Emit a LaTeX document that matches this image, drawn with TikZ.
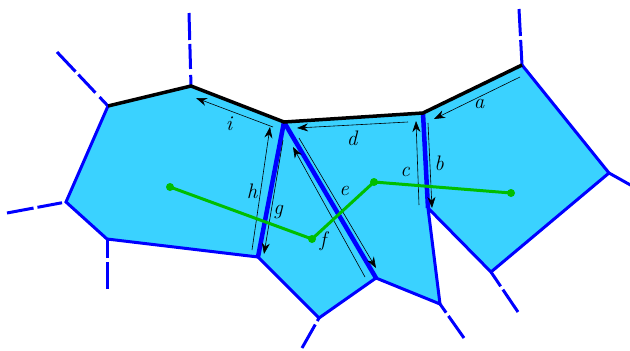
\documentclass[tikz,border=0pt]{standalone}
\usepackage{fontspec}
\usetikzlibrary{arrows.meta}
\definecolor{facefill}{RGB}{58,210,255}
\definecolor{edgeblue}{RGB}{0,0,255}
\definecolor{pathgreen}{RGB}{0,190,0}
\tikzset{
  face/.style={fill=facefill, draw=none},
  outeredge/.style={draw=edgeblue, line width=3pt, line join=miter},
  inneredge/.style={draw=edgeblue, line width=4.5pt},
  boundedge/.style={draw=black, line width=3.5pt, line join=miter},
  stub/.style={draw=edgeblue, line width=3pt, dash pattern=on 27pt off 4pt on 25pt off 6pt on 60pt},
  halfedge/.style={draw=black, line width=0.6pt, -{Stealth[length=11pt,width=8pt,inset=3.5pt]}},
  lab/.style={inner sep=0pt, font=\fontsize{21}{24}\selectfont\itshape},
  gpath/.style={draw=pathgreen, line width=3pt},
  gdot/.style={circle, fill=pathgreen, inner sep=0pt, minimum size=8pt}
}
\begin{document}
\begin{tikzpicture}[x=1pt, y=-1pt]
\useasboundingbox (0,0) rectangle (630,351);
\clip (0,0) rectangle (630,351);
% vertices
\coordinate (A) at (108,106);
\coordinate (B) at (191,86);
\coordinate (C) at (284,122);
\coordinate (D) at (423,113);
\coordinate (E) at (522,65);
\coordinate (F) at (609,173);
\coordinate (G) at (491,272);
\coordinate (H) at (428,208);
\coordinate (I) at (440,304);
\coordinate (J) at (376,278);
\coordinate (K) at (319,318);
\coordinate (L) at (258,257);
\coordinate (M) at (107,239);
\coordinate (N) at (66,202);
% stub outer ends
\coordinate (Ao) at (57,52);
\coordinate (Bo) at (189,13);
\coordinate (Eo) at (519,9);
\coordinate (Fo) at (634,187);
\coordinate (Go) at (518,312);
\coordinate (Io) at (464,338);
\coordinate (Ko) at (302,348);
\coordinate (Mo) at (107,289);
\coordinate (No) at (7,213);
% faces
\path[face] (A) -- (B) -- (C) -- (L) -- (M) -- (N) -- cycle;
\path[face] (C) -- (J) -- (K) -- (L) -- cycle;
\path[face] (C) -- (D) -- (H) -- (I) -- (J) -- cycle;
\path[face] (D) -- (E) -- (F) -- (G) -- (H) -- cycle;
% stubs
\draw[stub] (Ao) -- (A);
\draw[stub] (Bo) -- (B);
\draw[stub] (Eo) -- (E);
\draw[draw=edgeblue, line width=3pt] (F) -- (Fo);
\draw[stub] (Go) -- (G);
\draw[stub] (Io) -- (I);
\draw[stub] (Ko) -- (K);
\draw[stub] (Mo) -- (M);
\draw[stub] (No) -- (N);
% outer blue edges
\draw[outeredge] (C) -- (L) -- (M) -- (N) -- (A);
\draw[outeredge] (L) -- (K) -- (J) -- (I) -- (H) -- (G) -- (F) -- (E);
% inner edges
\draw[inneredge] (C) -- (L);
\draw[inneredge] (C) -- (J);
\draw[inneredge] (D) -- (H);
% boundary edges
\draw[boundedge] (A) -- (B) -- (C) -- (D) -- (E);
% half-edge arrows
\coordinate (a1) at (520,77);  \coordinate (a2) at (434,119);
\coordinate (b1) at (428,123); \coordinate (b2) at (432,208);
\coordinate (c1) at (419,205); \coordinate (c2) at (416,121);
\coordinate (d1) at (408,122); \coordinate (d2) at (297,128);
\coordinate (e1) at (299,138); \coordinate (e2) at (376,268);
\coordinate (f1) at (365,277); \coordinate (f2) at (293,147);
\coordinate (g1) at (283,140); \coordinate (g2) at (264,254);
\coordinate (h1) at (252,250); \coordinate (h2) at (270,127);
\coordinate (i1) at (273,127); \coordinate (i2) at (196,98);
\draw[halfedge] (a1) -- (a2);
\draw[halfedge] (b1) -- (b2);
\draw[halfedge] (c1) -- (c2);
\draw[halfedge] (d1) -- (d2);
\draw[halfedge] (e1) -- (e2);
\draw[halfedge] (f1) -- (f2);
\draw[halfedge] (g1) -- (g2);
\draw[halfedge] (h1) -- (h2);
\draw[halfedge] (i1) -- (i2);
% labels
\node[lab] (la) at (479,104) {a};
\node[lab] (lb) at (439,163) {b};
\node[lab] (lc) at (405,172) {c};
\node[lab] (ld) at (352,138) {d};
\node[lab] (le) at (344,191) {e};
\node[lab] (lf) at (323,241) {f};
\node[lab] (lg) at (278,212) {g};
\node[lab] (lh) at (252,191) {h};
\node[lab] (li) at (229,124) {i};
% green dual path
\node[gdot] (p1) at (170,187) {};
\node[gdot] (p2) at (312,239) {};
\node[gdot] (p3) at (374,182) {};
\node[gdot] (p4) at (511,193) {};
\draw[gpath] (p1.center) -- (p2.center) -- (p3.center) -- (p4.center);
\end{tikzpicture}
\end{document}
